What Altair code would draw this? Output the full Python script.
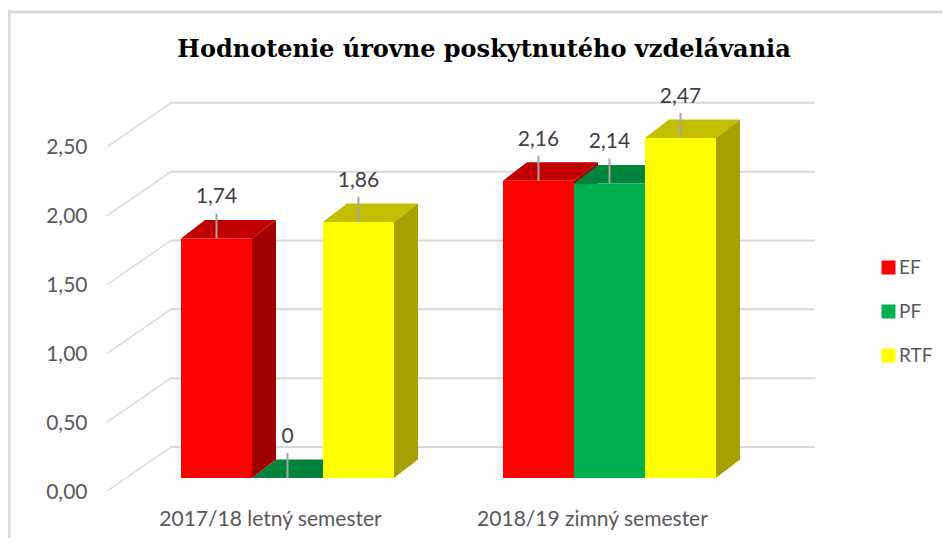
import altair as alt
import pandas as pd

# ---------------- data ----------------
CATEGORIES = ["2017/18 letný semester", "2018/19 zimný semester"]
SERIES = ["EF", "PF", "RTF"]
EF_VALUES = [1.74, 2.16]
PF_VALUES = [0.0, 2.14]
RTF_VALUES = [1.86, 2.47]
Y_TICKS = [0.0, 0.5, 1.0, 1.5, 2.0, 2.5]
TITLE = "Hodnotenie úrovne poskytnutého vzdelávania"

VALUES = {"EF": EF_VALUES, "PF": PF_VALUES, "RTF": RTF_VALUES}

# ---------------- style ----------------
FRONT = {"EF": "#FF0000", "PF": "#00B050", "RTF": "#FFFF00"}
TOP = {"EF": "#C00000", "PF": "#00843D", "RTF": "#C4BE00"}
SIDE = {"EF": "#A00000", "PF": "#006B30", "RTF": "#A6A000"}
GRID = "#D9D9D9"
TEXT = "#595959"
FONT = "Lato"

W, H = 708, 413
GROUP_STEP = 4.535   # distance between category groups, in bar widths
DX = 0.338           # 3-D depth, horizontal (bar widths)
DY = 0.134           # 3-D depth, vertical (value units)

bars, faces = [], []
for gi, cat in enumerate(CATEGORIES):
    for si, s in enumerate(SERIES):
        v = VALUES[s][gi]
        x0 = gi * GROUP_STEP + si
        x1 = x0 + 1
        bid = f"{gi}-{si}"
        label = "0" if v == 0 else f"{v:.2f}".replace(".", ",")
        bars.append(dict(category=cat, series=s, value=v, x0=x0, x1=x1,
                         xc=x0 + 0.5, label=label))
        for x, y, y2 in [(x1, 0.0, v), (x1 + DX, DY, v + DY)]:
            faces.append(dict(id=bid, face="side", x=x, y=y, y2=y2, fill=SIDE[s]))
        for x, y, y2 in [(x0, v, v), (x0 + DX, v, v + DY),
                         (x1, v, v + DY), (x1 + DX, v + DY, v + DY)]:
            faces.append(dict(id=bid, face="top", x=x, y=y, y2=y2, fill=TOP[s]))

bars_df = pd.DataFrame(bars)
faces_df = pd.DataFrame(faces)
ticks_df = pd.DataFrame({"tick": Y_TICKS})
cats_df = pd.DataFrame({"category": CATEGORIES,
                        "xc": [gi * GROUP_STEP + 1.5 for gi in range(len(CATEGORIES))]})
title_df = pd.DataFrame({"title": [TITLE]})

xscale = alt.Scale(domain=[-1.0423, 8.9296], nice=False, zero=False)
yscale = alt.Scale(domain=[0, 3], nice=False)
yaxis = alt.Axis(values=Y_TICKS, domain=False, ticks=False, grid=False,
                 labelPadding=20, labelOffset=14, labelFont=FONT, labelFontSize=21,
                 labelColor=TEXT,
                 labelExpr="replace(format(datum.value, '.2f'), '.', ',')")

def X(f):
    return alt.X(f, type="quantitative", scale=xscale, axis=None, title=None)

def Y(f):
    return alt.Y(f, type="quantitative", scale=yscale, axis=yaxis, title=None)

base_faces = alt.Chart(faces_df)

grid = alt.Chart(ticks_df).mark_rule(color=GRID, strokeWidth=2, yOffset=-31).encode(
    x=alt.value(63), x2=alt.value(W), y=Y("tick"))
slant = alt.Chart(ticks_df).mark_rule(color=GRID, strokeWidth=1.5, yOffset=13, y2Offset=-31).encode(
    x=alt.value(0), x2=alt.value(64), y=Y("tick"), y2="tick:Q")

sides = base_faces.transform_filter("datum.face == 'side'").mark_area(orient="vertical").encode(
    x=X("x"), y=Y("y"), y2="y2:Q", color=alt.Color("fill:N", scale=None), detail="id:N")
tops = base_faces.transform_filter("datum.face == 'top'").mark_area(orient="vertical").encode(
    x=X("x"), y=Y("y"), y2="y2:Q", color=alt.Color("fill:N", scale=None), detail="id:N")

fronts = alt.Chart(bars_df).mark_rect().encode(
    x=X("x0"), x2="x1:Q", y=Y("value"), y2=alt.datum(0),
    color=alt.Color("series:N",
                    scale=alt.Scale(domain=SERIES, range=[FRONT[s] for s in SERIES]),
                    legend=alt.Legend(orient="none", legendX=772, legendY=193, title=None,
                                      symbolType="square", symbolSize=196,
                                      symbolStrokeWidth=0, labelFont=FONT,
                                      labelFontSize=19, labelColor=TEXT,
                                      labelOffset=1, rowPadding=24, padding=0)))

leaders = alt.Chart(bars_df).mark_rule(color="#A6A6A6", strokeWidth=2, y2Offset=-25).encode(
    x=X("xc"), y=Y("value"), y2="value:Q")
labels = alt.Chart(bars_df).mark_text(dy=-41, font=FONT, fontSize=21, color="#404040",
                                      baseline="middle").encode(
    x=X("xc"), y=Y("value"), text="label:N")

cat_labels = alt.Chart(cats_df).mark_text(dx=-17, font=FONT, fontSize=21, color=TEXT,
                                          baseline="middle").encode(
    x=X("xc"), y=alt.value(455), text="category:N")

title = alt.Chart(title_df).mark_text(font="DejaVu Serif", fontSize=24, fontWeight="bold",
                                      color="#000000", baseline="alphabetic",
                                      align="center").encode(
    x=alt.value(377), y=alt.value(-8), text="title:N")

border_top = alt.Chart(ticks_df.head(1)).mark_rule(color=GRID, strokeWidth=3).encode(
    x=alt.value(-99), x2=alt.value(835), y=alt.value(-53))
border_left = alt.Chart(ticks_df.head(1)).mark_rule(color=GRID, strokeWidth=3).encode(
    x=alt.value(-98), y=alt.value(-55), y2=alt.value(473))

chart = alt.layer(
    border_top, border_left, grid, slant, sides, tops, fronts, leaders, labels,
    cat_labels, title
).resolve_scale(color="independent").properties(
    width=W, height=H,
    padding={"left": 99, "top": 57, "right": 127, "bottom": 60},
    autosize=alt.AutoSizeParams(type="none"),
    background="white",
).configure_view(stroke=None)

chart.save("out.html", embed_options={"renderer": "svg", "actions": False})
